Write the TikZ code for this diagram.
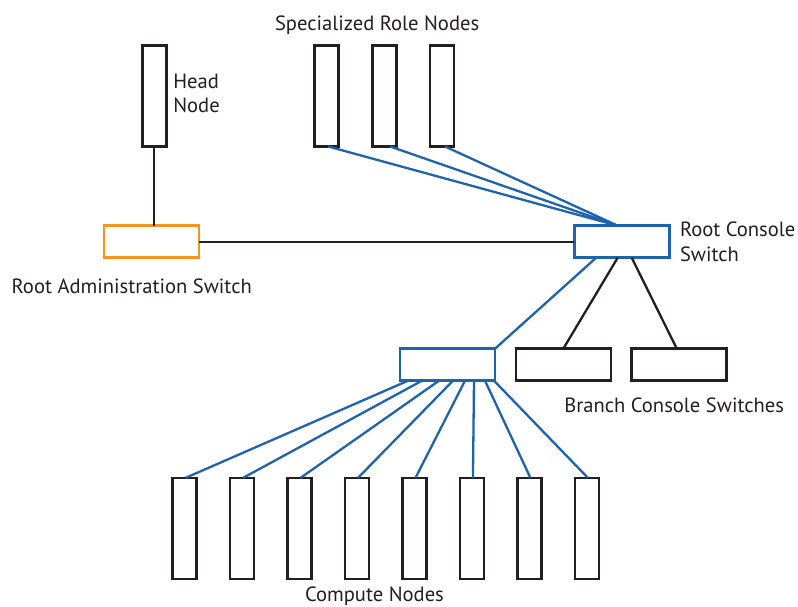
\documentclass[tikz,border=0pt]{standalone}
\usepackage{fontspec}
\setmainfont{PT Sans}
\usetikzlibrary{calc}
\definecolor{ink}{HTML}{231F20}
\definecolor{netblue}{HTML}{1E63AE}
\definecolor{adminorange}{HTML}{F7941D}
\begin{document}
\begin{tikzpicture}[x=1pt,y=-1pt,
  tallbox/.style={draw=ink, line width=2.6pt, minimum width=24pt, minimum height=101pt, inner sep=0pt, outer sep=0pt},
  switchbox/.style={line width=2.6pt, minimum width=95pt, minimum height=32pt, inner sep=0pt, outer sep=0pt},
  blk/.style={draw=ink, line width=2.3pt},
  blu/.style={draw=netblue, line width=2.3pt},
  lbl/.style={font=\fontsize{20.6}{24}\selectfont, text=ink, inner sep=0pt, outer sep=0pt, anchor=base west}]
\useasboundingbox (0,0) rectangle (798,606);

% head node and specialized role nodes
\node[tallbox] (head) at (154.3,96) {};
\node[tallbox] (s1) at (326.7,96) {};
\node[tallbox] (s2) at (384.2,96) {};
\node[tallbox] (s3) at (442,96) {};

% switches
\node[switchbox, draw=adminorange] (admin) at (151.3,241.7) {};
\node[switchbox, draw=netblue] (rc) at (621.7,241.7) {};
\node[switchbox, draw=netblue] (cs) at (447.5,364.7) {};
\node[switchbox, draw=ink] (b1) at (563.3,364.7) {};
\node[switchbox, draw=ink] (b2) at (678.8,364.7) {};

% compute nodes
\foreach \i in {1,...,8}
  \node[tallbox] (c\i) at ({184.7+57.45*(\i-1)},528.3) {};

% labels
\node[lbl] (lspec) at (275,30) {Specialized Role Nodes};
\node[lbl] (lheadA) at (173.3,88.3) {Head};
\node[lbl] (lheadB) at (173.3,112.7) {Node};
\node[lbl] (lrcA) at (680,236) {Root Console};
\node[lbl] (lrcB) at (680,261.5) {Switch};
\node[lbl] (ladmin) at (11.7,293.3) {Root Administration Switch};
\node[lbl] (lbranch) at (564.3,412.3) {Branch Console Switches};
\node[lbl] (lcomp) at (305,601.5) {Compute Nodes};

% administration network
\draw[blk] (head.south) -- (head.south |- admin.north);
\draw[blk] (admin.east) -- (rc.west);

% console network
\draw[blu] ($(s1.south)+(1.5,0)$) -- ($(rc.north)+(-4,0)$);
\draw[blu] ($(s2.south)+(6,0)$) -- ($(rc.north)+(-4,0)$);
\draw[blu] ($(s3.south)+(3,0)$) -- ($(rc.north)+(-4,0)$);
\draw[blu] ($(rc.south west)+(22,0)$) -- (cs.north east);
\draw[blk] ($(rc.south)+(-4,0)$) -- (b1.north);
\draw[blk] ($(rc.south)+(10,0)$) -- ($(b2.north)+(-2,0)$);

\foreach \i/\dx in {1/8,2/22,3/39,4/53,5/65,6/74,7/85,8/94}
  \draw[blu] ($(cs.south west)+(\dx,0)$) -- ($(c\i.north)+(1,0)$);
\end{tikzpicture}
\end{document}
